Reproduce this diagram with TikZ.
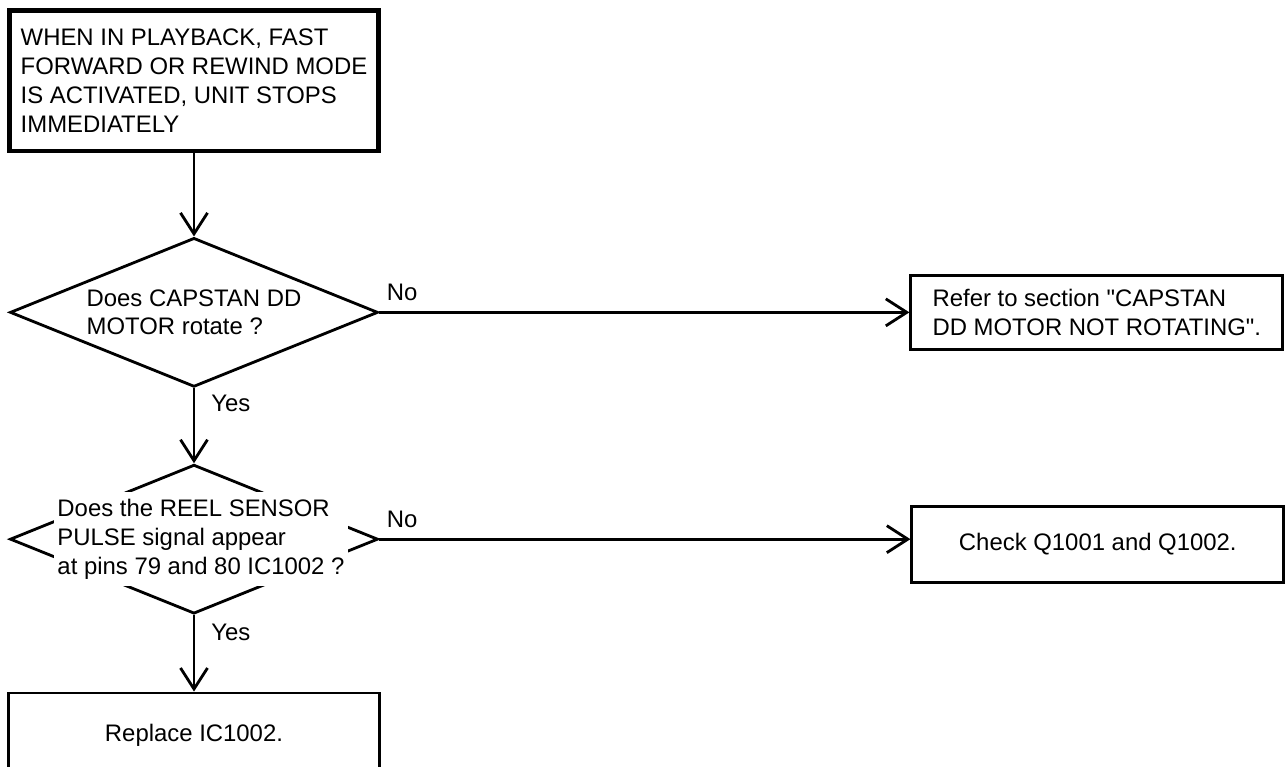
\documentclass[tikz,border=0pt]{standalone}
\usepackage{fontspec}
\setmainfont{Liberation Sans}[Ligatures=TeXOff]
\usepackage{tikz}
\usetikzlibrary{arrows.meta,positioning,shapes.geometric}

\newcommand{\flowfont}{\fontsize{13.6pt}{16.4pt}\selectfont}

\begin{document}
\begin{tikzpicture}[
    box/.style={draw, line width=1.6pt, align=left, font=\flowfont},
    startbox/.style={box, line width=2.8pt, minimum width=7.38cm, minimum height=2.81cm},
    actbox/.style={box, minimum width=7.44cm, minimum height=1.48cm},
    decision/.style={draw, diamond, line width=1.6pt, inner sep=0pt, minimum width=7.36cm, minimum height=2.98cm},
    qtext/.style={align=left, font=\flowfont, inner sep=0pt},
    arrow/.style={-{Straight Barb[length=4.2mm, width=5.4mm]}, line width=1.6pt},
    lbl/.style={font=\flowfont, inner sep=0pt}
  ]
  \useasboundingbox (0,0) rectangle (25.72,-15.34);

  % Start condition
  \node[startbox] (start) at (3.88,-1.615) {WHEN IN PLAYBACK, FAST\\FORWARD OR REWIND MODE\\IS ACTIVATED, UNIT STOPS\\IMMEDIATELY};

  % Decision 1: capstan motor
  \node[decision, below=1.66cm of start] (q1) {};
  \node[qtext] (q1t) at (q1) {Does CAPSTAN DD\\MOTOR rotate ?};
  \node[actbox, right=10.6cm of q1] (ref) {Refer to section "CAPSTAN\\DD MOTOR NOT ROTATING".};

  % Decision 2: reel sensor pulse
  \node[decision, below=1.5cm of q1] (q2) {};
  \node[qtext, fill=white, inner xsep=2pt, inner ysep=4pt, xshift=0.14cm] (q2t) at (q2) {Does the REEL SENSOR\\PULSE signal appear\\at pins 79 and 80 IC1002 ?};
  \node[actbox, align=center, minimum height=1.52cm, right=10.62cm of q2, yshift=-0.1cm] (chk) {Check Q1001 and Q1002.};

  % Final action
  \node[box, align=center, minimum width=7.43cm, minimum height=1.68cm, below=1.53cm of q2] (fix) {Replace IC1002.};

  % Arrows
  \draw[arrow] (start) -- (q1);
  \draw[arrow] (q1.east) -- (ref.west) node[lbl, pos=0, anchor=south west, xshift=0.12cm, yshift=0.2cm] (no1) {No};
  \draw[arrow] (q1.south) -- (q2.north) node[lbl, pos=0, anchor=north west, xshift=0.32cm, yshift=-0.1cm] (yes1) {Yes};
  \draw[arrow] (q2.east) -- (q2.east -| chk.west) node[lbl, pos=0, anchor=south west, xshift=0.12cm, yshift=0.2cm] (no2) {No};
  \draw[arrow] (q2.south) -- (fix.north) node[lbl, pos=0, anchor=north west, xshift=0.32cm, yshift=-0.16cm] (yes2) {Yes};

\end{tikzpicture}
\end{document}
